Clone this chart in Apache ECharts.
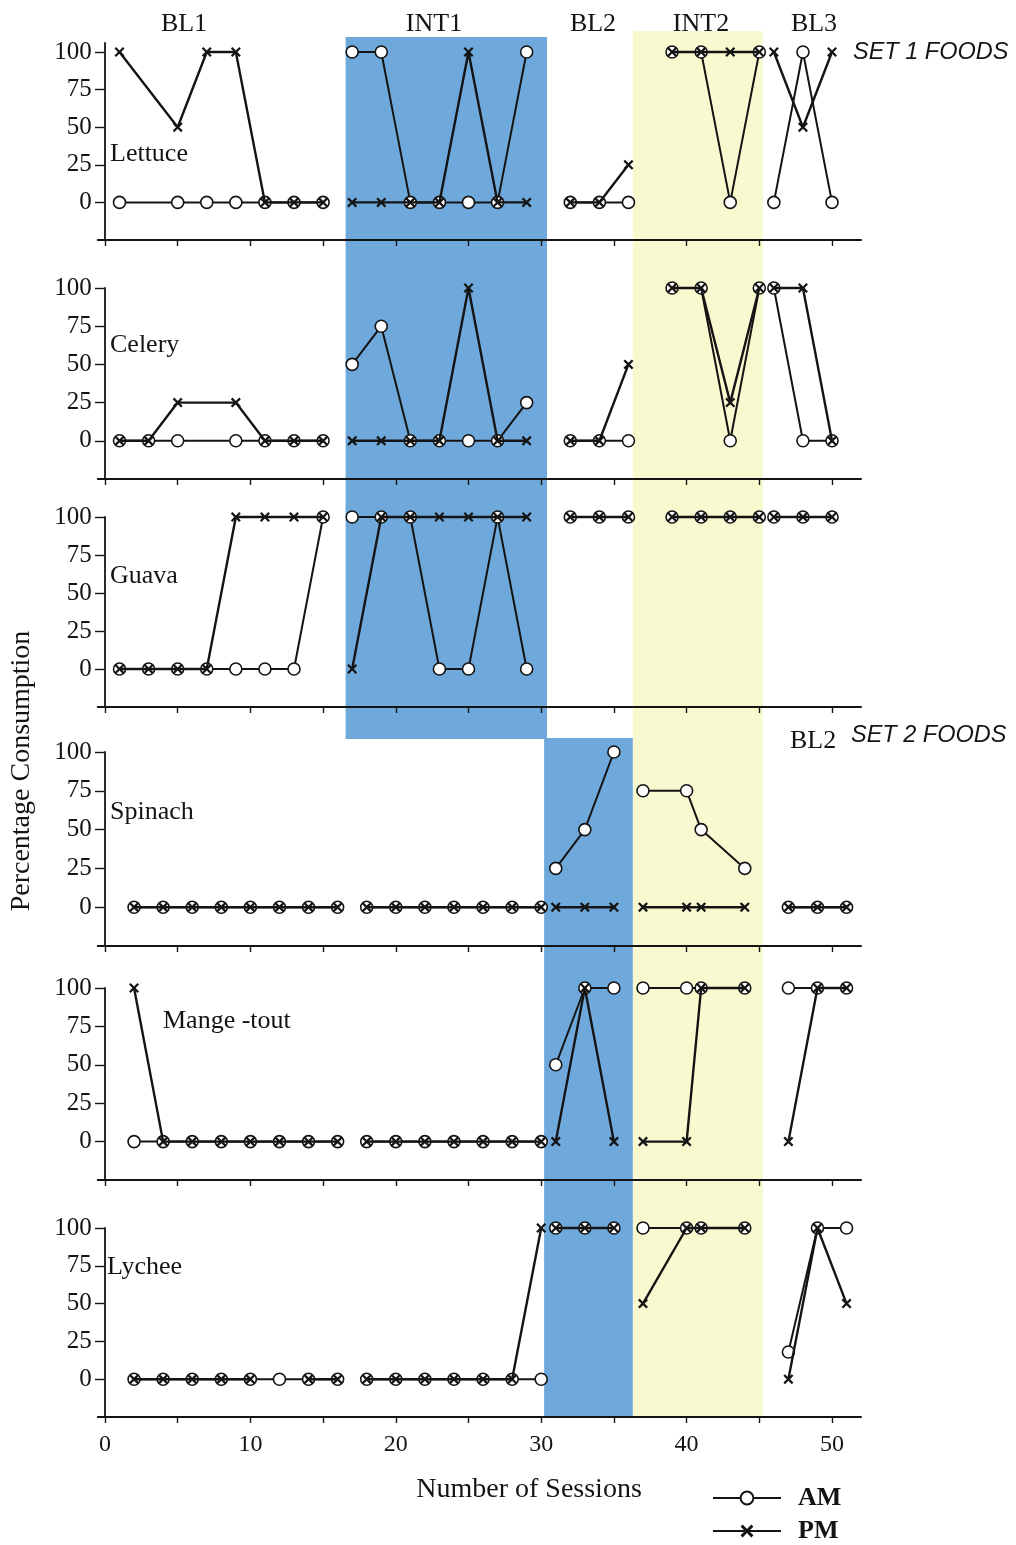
<!DOCTYPE html>
<html>
<head>
<meta charset="utf-8">
<script src="https://cdn.jsdelivr.net/npm/echarts@6/dist/echarts.min.js"></script>
<style>
  html, body { margin: 0; padding: 0; background: #fff; }
  #chart { width: 1016px; height: 1545px; }
</style>
</head>
<body>
<div id="chart"></div>
<script>
// Percentage of each food consumed per session (AM and PM meals).
// Every inner array is one phase segment; lines are broken between segments.

const foodNames = ['Lettuce', 'Celery', 'Guava', 'Spinach', 'Mange -tout', 'Lychee'];

// ---- Set 1 foods ----
const lettuceSessions = [[1, 5, 7, 9, 11, 13, 15], [17, 19, 21, 23, 25, 27, 29], [32, 34, 36], [39, 41, 43, 45], [46, 48, 50]];
const lettuceAM = [[0, 0, 0, 0, 0, 0, 0], [100, 100, 0, 0, 0, 0, 100], [0, 0, 0], [100, 100, 0, 100], [0, 100, 0]];
const lettucePM = [[100, 50, 100, 100, 0, 0, 0], [0, 0, 0, 0, 100, 0, 0], [0, 0, 25], [100, 100, 100, 100], [100, 50, 100]];

const celerySessions = [[1, 3, 5, 9, 11, 13, 15], [17, 19, 21, 23, 25, 27, 29], [32, 34, 36], [39, 41, 43, 45], [46, 48, 50]];
const celeryAM = [[0, 0, 0, 0, 0, 0, 0], [50, 75, 0, 0, 0, 0, 25], [0, 0, 0], [100, 100, 0, 100], [100, 0, 0]];
const celeryPM = [[0, 0, 25, 25, 0, 0, 0], [0, 0, 0, 0, 100, 0, 0], [0, 0, 50], [100, 100, 25, 100], [100, 100, 0]];

const guavaSessions = [[1, 3, 5, 7, 9, 11, 13, 15], [17, 19, 21, 23, 25, 27, 29], [32, 34, 36], [39, 41, 43, 45], [46, 48, 50]];
const guavaAM = [[0, 0, 0, 0, 0, 0, 0, 100], [100, 100, 100, 0, 0, 100, 0], [100, 100, 100], [100, 100, 100, 100], [100, 100, 100]];
const guavaPM = [[0, 0, 0, 0, 100, 100, 100, 100], [0, 100, 100, 100, 100, 100, 100], [100, 100, 100], [100, 100, 100, 100], [100, 100, 100]];

// ---- Set 2 foods ----
const spinachSessions = [[2, 4, 6, 8, 10, 12, 14, 16], [18, 20, 22, 24, 26, 28, 30], [31, 33, 35], [37, 40, 41, 44], [47, 49, 51]];
const spinachAM = [[0, 0, 0, 0, 0, 0, 0, 0], [0, 0, 0, 0, 0, 0, 0], [25, 50, 100], [75, 75, 50, 25], [0, 0, 0]];
const spinachPM = [[0, 0, 0, 0, 0, 0, 0, 0], [0, 0, 0, 0, 0, 0, 0], [0, 0, 0], [0, 0, 0, 0], [0, 0, 0]];

const mangeToutSessions = [[2, 4, 6, 8, 10, 12, 14, 16], [18, 20, 22, 24, 26, 28, 30], [31, 33, 35], [37, 40, 41, 44], [47, 49, 51]];
const mangeToutAM = [[0, 0, 0, 0, 0, 0, 0, 0], [0, 0, 0, 0, 0, 0, 0], [50, 100, 100], [100, 100, 100, 100], [100, 100, 100]];
const mangeToutPM = [[100, 0, 0, 0, 0, 0, 0, 0], [0, 0, 0, 0, 0, 0, 0], [0, 100, 0], [0, 0, 100, 100], [0, 100, 100]];

const lycheeSessions = [[2, 4, 6, 8, 10, 12, 14, 16], [18, 20, 22, 24, 26, 28, 30], [31, 33, 35], [37, 40, 41, 44], [47, 49, 51]];
const lycheeAM = [[0, 0, 0, 0, 0, 0, 0, 0], [0, 0, 0, 0, 0, 0, 0], [100, 100, 100], [100, 100, 100, 100], [18, 100, 100]];
const lycheePM = [[0, 0, 0, 0, 0, null, 0, 0], [0, 0, 0, 0, 0, 0, 100], [100, 100, 100], [50, 100, 100, 100], [0, 100, 50]];

// Phase spans (in sessions) for the shaded intervention phases
const int1Set1Span = [16.55, 30.4];
const int1Set2Span = [30.2, 36.3];
const int2Span = [36.3, 45.25];

// Axis ticks
const yTicks = [0, 25, 50, 75, 100];
const xTicks = [0, 5, 10, 15, 20, 25, 30, 35, 40, 45, 50];
const xLabels = [0, 10, 20, 30, 40, 50];

const panels = [
  [lettuceSessions, lettuceAM, lettucePM],
  [celerySessions, celeryAM, celeryPM],
  [guavaSessions, guavaAM, guavaPM],
  [spinachSessions, spinachAM, spinachPM],
  [mangeToutSessions, mangeToutAM, mangeToutPM],
  [lycheeSessions, lycheeAM, lycheePM]
];

// panel layout: [top, height, yMax]
const panelBoxes = [
  [43, 197, 106],
  [288, 191, 100],
  [517, 190, 100],
  [752, 194, 100],
  [988, 192, 100],
  [1228, 189, 100]
];

const SERIF = '"Liberation Serif", "Times New Roman", serif';
const SANS = '"Liberation Sans", Arial, sans-serif';
const INK = '#141414';
const CROSS = 'path://M0,1.6L1.6,0L5,3.4L8.4,0L10,1.6L6.6,5L10,8.4L8.4,10L5,6.6L1.6,10L0,8.4L3.4,5Z';

// Turn phase segments into [session, value] pairs with gaps between phases
function toLineData(sessions, values) {
  const out = [];
  sessions.forEach((seg, i) => {
    if (i > 0) {
      const prev = sessions[i - 1];
      out.push([(prev[prev.length - 1] + seg[0]) / 2, '-']);
    }
    seg.forEach((s, j) => {
      const v = values[i][j];
      out.push([s, v === null ? '-' : v]);
    });
  });
  return out;
}

const grids = [], xAxes = [], yAxes = [], series = [];

panels.forEach((p, i) => {
  const [top, height, yMax] = panelBoxes[i];
  grids.push({ left: 97.7, width: 763.4, top: top, height: height });
  xAxes.push({
    gridIndex: i, type: 'value', min: -0.5, max: 52,
    axisLine: { show: true, onZero: false, lineStyle: { color: INK, width: 1.8 } },
    axisTick: { show: true, customValues: xTicks, length: 6, lineStyle: { color: INK, width: 1.4 } },
    axisLabel: { show: i === panels.length - 1, customValues: xLabels, margin: 16,
      fontFamily: SERIF, fontSize: 24, color: INK },
    splitLine: { show: false }
  });
  yAxes.push({
    gridIndex: i, type: 'value', min: -25, max: yMax,
    axisLine: { show: true, onZero: true, lineStyle: { color: INK, width: 1.8 } },
    axisTick: { show: true, customValues: yTicks, length: 10, lineStyle: { color: INK, width: 1.4 } },
    axisLabel: { customValues: yTicks, margin: 6, fontFamily: SERIF, fontSize: 25, color: INK },
    splitLine: { show: false }
  });
  const [sessions, am, pm] = p;
  series.push({
    type: 'line', name: 'AM', xAxisIndex: i, yAxisIndex: i,
    data: toLineData(sessions, am),
    symbol: 'circle', symbolSize: 12, showAllSymbol: true, clip: false,
    itemStyle: { color: '#ffffff', borderColor: INK, borderWidth: 1.6 },
    lineStyle: { color: INK, width: 2 },
    z: 3
  });
  series.push({
    type: 'line', name: 'PM', xAxisIndex: i, yAxisIndex: i,
    data: toLineData(sessions, pm),
    symbol: CROSS, symbolSize: 10, showAllSymbol: true, clip: false,
    itemStyle: { color: INK },
    lineStyle: { color: INK, width: 2.4 },
    z: 4
  });
});

const chart = echarts.init(document.getElementById('chart'), null, { renderer: 'canvas' });

chart.setOption({
  animation: false,
  backgroundColor: '#ffffff',
  grid: grids,
  xAxis: xAxes,
  yAxis: yAxes,
  series: series,
  legend: {
    orient: 'vertical', left: 712, top: 1483, height: 90, padding: 0,
    itemWidth: 68, itemHeight: 16, itemGap: 3,
    data: ['AM', 'PM'],
    textStyle: { fontFamily: SERIF, fontWeight: 'bold', fontSize: 26, lineHeight: 30,
      color: INK, padding: [0, 0, 0, 12] }
  }
});

// Shaded phases and panel text, positioned from the session scale
const px = v => chart.convertToPixel({ xAxisIndex: 0 }, v);
const BLUE = '#6fa9dc';
const YELLOW = '#f9f9cf';

function rect(span, y0, y1, fill, z) {
  const x0 = px(span[0]), x1 = px(span[1]);
  return { type: 'rect', z: z, silent: true,
    shape: { x: x0, y: y0, width: x1 - x0, height: y1 - y0 },
    style: { fill: fill } };
}

function label(text, x, y, opts) {
  return Object.assign({ type: 'text', x: x, y: y, z: 10, silent: true,
    style: Object.assign({ text: text, fill: INK, font: '26px ' + SERIF,
      textAlign: 'left', textVerticalAlign: 'middle' }, opts || {}) });
}

const phaseTitles = [['BL1', 184], ['INT1', 434], ['BL2', 593], ['INT2', 701], ['BL3', 814]];
const foodLabelPos = [[110, 154], [110, 345], [110, 576], [110, 812], [163, 1021], [107, 1267]];

const graphics = [
  rect(int2Span, 31, 1417, YELLOW, -20),
  rect(int1Set1Span, 37, 739, BLUE, -19),
  rect(int1Set2Span, 738, 1418, BLUE, -19)
];
phaseTitles.forEach(([t, x]) => graphics.push(label(t, x, 24, { textAlign: 'center' })));
foodNames.forEach((n, i) => graphics.push(label(n, foodLabelPos[i][0], foodLabelPos[i][1])));
graphics.push(label('SET 1 FOODS', 853, 52, { font: 'italic 23.5px ' + SANS }));
graphics.push(label('BL2', 790, 741));
graphics.push(label('SET 2 FOODS', 851, 735, { font: 'italic 23.5px ' + SANS }));
graphics.push(label('Number of Sessions', 529, 1490, { textAlign: 'center', font: '28px ' + SERIF }));
graphics.push(Object.assign(label('Percentage Consumption', 0, 0, { textAlign: 'center', font: '28px ' + SERIF }),
  { x: 22, y: 771, rotation: Math.PI / 2 }));

chart.setOption({ graphic: graphics });
</script>
</body>
</html>
